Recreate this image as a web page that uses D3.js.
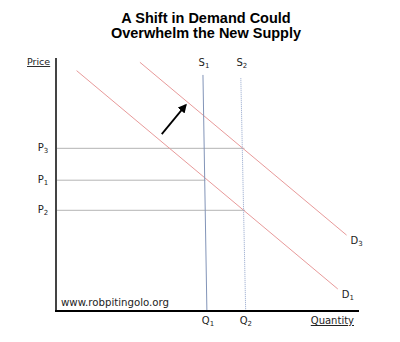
<!DOCTYPE html>
<html>
<head>
<meta charset="utf-8">
<script src="https://cdn.jsdelivr.net/npm/d3@7"></script>
<style>
  html, body { margin: 0; padding: 0; background: #fff; }
  svg { display: block; }
</style>
</head>
<body>
<svg id="chart" width="400" height="342"></svg>
<script>
// Title lines
const titleLines = ["A Shift in Demand Could", "Overwhelm the New Supply"];

// Demand curves: [q, p] endpoints on a 0–100 scale
const demandNames = ["D1", "D3"];
const demandStart = [[6.8, 95.0], [27.7, 98.3]];
const demandEnd = [[93.0, 8.7], [95.9, 30.0]];

// Supply curves (nearly vertical)
const supplyNames = ["S1", "S2"];
const supplyTop = [[48.5, 93.3], [61.0, 92.0]];
const supplyBottom = [[49.8, 0], [62.6, 0]];

// Equilibrium prices and quantities
const priceNames = ["P3", "P1", "P2"];
const priceValues = [64.3, 51.7, 39.8];
const priceReach = [62.2, 49.3, 62.4];
const quantityNames = ["Q1", "Q2"];
const quantityValues = [50.5, 63.0];

// Shift arrow
const arrowFrom = [34.9, 69.9];
const arrowTo = [42.8, 81.4];

const svg = d3.select("#chart");
const font = "'DejaVu Sans', Verdana, sans-serif";

const x = d3.scaleLinear().domain([0, 100]).range([56, 359]);
const y = d3.scaleLinear().domain([0, 100]).range([311, 58]);

// Title
svg.append("g").selectAll("text").data(titleLines).join("text")
  .attr("x", 206).attr("y", (d, i) => 23 + i * 15)
  .attr("text-anchor", "middle")
  .attr("font-family", "'Liberation Sans', Arial, sans-serif")
  .attr("font-weight", "bold").attr("font-size", 14.5)
  .attr("fill", "#000").text(d => d);

// Price guide lines
svg.append("g").selectAll("line").data(priceValues).join("line")
  .attr("x1", x(0)).attr("x2", (d, i) => x(priceReach[i]))
  .attr("y1", d => y(d)).attr("y2", d => y(d))
  .attr("stroke", "#b4b4b4").attr("stroke-width", 1);

// Demand curves
svg.append("g").selectAll("line").data(demandNames).join("line")
  .attr("x1", (d, i) => x(demandStart[i][0])).attr("y1", (d, i) => y(demandStart[i][1]))
  .attr("x2", (d, i) => x(demandEnd[i][0])).attr("y2", (d, i) => y(demandEnd[i][1]))
  .attr("stroke", "#e89a9a").attr("stroke-width", 1);

// Supply curves
svg.append("g").selectAll("line").data(supplyNames).join("line")
  .attr("x1", (d, i) => x(supplyTop[i][0])).attr("y1", (d, i) => y(supplyTop[i][1]))
  .attr("x2", (d, i) => x(supplyBottom[i][0])).attr("y2", (d, i) => y(supplyBottom[i][1]))
  .attr("stroke", (d, i) => i === 0 ? "#8294b8" : "#93a6cc")
  .attr("stroke-width", 1)
  .attr("stroke-dasharray", (d, i) => i === 0 ? null : "1,1");

// Axes
svg.append("line").attr("x1", x(0)).attr("x2", x(0)).attr("y1", y(100)).attr("y2", y(0) + 1)
  .attr("stroke", "#444").attr("stroke-width", 2);
svg.append("line").attr("x1", x(0) - 1).attr("x2", x(100)).attr("y1", y(0)).attr("y2", y(0))
  .attr("stroke", "#000").attr("stroke-width", 2);

// Arrow
svg.append("defs").append("marker")
  .attr("id", "head").attr("viewBox", "0 0 10 10")
  .attr("refX", 8).attr("refY", 5)
  .attr("markerWidth", 5).attr("markerHeight", 5)
  .attr("orient", "auto")
  .append("path").attr("d", "M0,0 L10,5 L0,10 z").attr("fill", "#000");
svg.append("line")
  .attr("x1", x(arrowFrom[0])).attr("y1", y(arrowFrom[1]))
  .attr("x2", x(arrowTo[0])).attr("y2", y(arrowTo[1]))
  .attr("stroke", "#000").attr("stroke-width", 1.8)
  .attr("marker-end", "url(#head)");

// Label helper: letter with subscript digit
function subLabel(g, name, px, py, anchor) {
  const t = g.append("text")
    .attr("x", px).attr("y", py)
    .attr("text-anchor", anchor || "middle")
    .attr("font-family", font).attr("font-size", 10)
    .attr("fill", "#222");
  t.append("tspan").text(name[0]);
  t.append("tspan").attr("font-size", 7).attr("dy", 2).text(name.slice(1));
}

const labels = svg.append("g");
priceNames.forEach((n, i) => subLabel(labels, n, 43, y(priceValues[i]) + 3));
quantityNames.forEach((n, i) => subLabel(labels, n, x(quantityValues[i]) - 1, 324));
supplyNames.forEach((n, i) => subLabel(labels, n, x(supplyTop[i][0]) + 1, 66));
demandNames.forEach((n, i) => subLabel(labels, n, x(demandEnd[i][0]) + 4, y(demandEnd[i][1]) + 9, "start"));

// Axis titles (underlined)
svg.append("text").attr("x", 27).attr("y", 65)
  .attr("font-family", font).attr("font-size", 9.5)
  .attr("text-decoration", "underline").attr("fill", "#222").text("Price");
svg.append("text").attr("x", 354).attr("y", 324).attr("text-anchor", "end")
  .attr("font-family", font).attr("font-size", 10)
  .attr("text-decoration", "underline").attr("fill", "#222").text("Quantity");

// Site credit
svg.append("text").attr("x", 61).attr("y", 306)
  .attr("font-family", font).attr("font-size", 10.2)
  .attr("fill", "#222").text("www.robpitingolo.org");
</script>
</body>
</html>
